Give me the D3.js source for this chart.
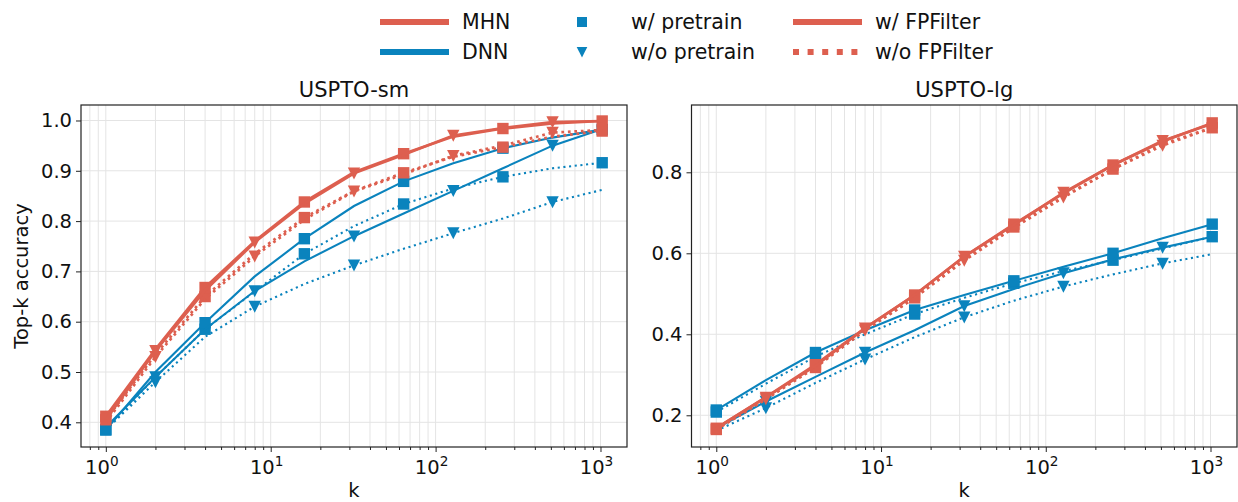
<!DOCTYPE html>
<html>
<head>
<meta charset="utf-8">
<script src="https://cdn.jsdelivr.net/npm/d3@7"></script>
<style>
  body { margin: 0; background: #fff; }
  svg { display: block; font-family: "DejaVu Sans", sans-serif; }
</style>
</head>
<body>
<script>
// Top-k accuracy vs k, two datasets. 11 points each: k = 1 .. 1024.
const kValues = [1, 2, 4, 8, 16, 32, 64, 128, 256, 512, 1024];

// USPTO-sm
const smMhnPreFp     = [0.412, 0.545, 0.668, 0.760, 0.838, 0.897, 0.934, 0.968, 0.984, 0.994, 0.999];
const smMhnNoPreFp   = [0.405, 0.542, 0.662, 0.758, 0.835, 0.895, 0.932, 0.970, 0.985, 0.997, 0.999];
const smMhnPreNoFp   = [0.405, 0.535, 0.650, 0.735, 0.807, 0.860, 0.896, 0.928, 0.947, 0.968, 0.979];
const smMhnNoPreNoFp = [0.400, 0.530, 0.645, 0.730, 0.803, 0.859, 0.893, 0.930, 0.950, 0.976, 0.981];
const smDnnPreFp     = [0.385, 0.500, 0.598, 0.690, 0.765, 0.830, 0.879, 0.915, 0.945, 0.966, 0.982];
const smDnnNoPreFp   = [0.390, 0.490, 0.585, 0.661, 0.720, 0.770, 0.815, 0.860, 0.905, 0.950, 0.983];
const smDnnPreNoFp   = [0.385, 0.490, 0.585, 0.660, 0.735, 0.790, 0.834, 0.865, 0.888, 0.905, 0.916];
const smDnnNoPreNoFp = [0.385, 0.480, 0.570, 0.630, 0.675, 0.712, 0.745, 0.776, 0.805, 0.838, 0.862];

// USPTO-lg
const lgMhnPreFp     = [0.168, 0.245, 0.325, 0.415, 0.497, 0.592, 0.672, 0.748, 0.818, 0.876, 0.922];
const lgMhnNoPreFp   = [0.168, 0.244, 0.322, 0.415, 0.497, 0.592, 0.670, 0.750, 0.818, 0.878, 0.920];
const lgMhnPreNoFp   = [0.165, 0.240, 0.318, 0.410, 0.490, 0.585, 0.665, 0.740, 0.808, 0.870, 0.910];
const lgMhnNoPreNoFp = [0.165, 0.240, 0.320, 0.410, 0.490, 0.582, 0.663, 0.738, 0.808, 0.866, 0.910];
const lgDnnPreFp     = [0.213, 0.287, 0.355, 0.410, 0.460, 0.497, 0.532, 0.567, 0.600, 0.637, 0.672];
const lgDnnNoPreFp   = [0.168, 0.234, 0.295, 0.355, 0.410, 0.470, 0.512, 0.551, 0.585, 0.614, 0.641];
const lgDnnPreNoFp   = [0.208, 0.278, 0.345, 0.400, 0.450, 0.490, 0.526, 0.556, 0.583, 0.612, 0.641];
const lgDnnNoPreNoFp = [0.162, 0.218, 0.280, 0.338, 0.393, 0.442, 0.483, 0.518, 0.548, 0.575, 0.598];

const xMajorTicks = [1, 10, 100, 1000];
const smYTicks = [0.4, 0.5, 0.6, 0.7, 0.8, 0.9, 1.0];
const lgYTicks = [0.2, 0.4, 0.6, 0.8];

const RED = '#dd5f4f';
const BLUE = '#0a83bd';

const W = 1238, H = 502;
const TOP = 105, BOTTOM = 447;
const FONT = 19.5;

const svg = d3.select('body').append('svg').attr('width', W).attr('height', H);

// model, pretrain, fpfilter -> style. DNN drawn first so MHN sits on top.
function seriesFor(mhnPreFp, mhnNoPreFp, mhnPreNoFp, mhnNoPreNoFp,
                   dnnPreFp, dnnNoPreFp, dnnPreNoFp, dnnNoPreNoFp) {
  return [
    { vals: dnnPreNoFp, color: BLUE, pre: true, fp: false },
    { vals: dnnNoPreNoFp, color: BLUE, pre: false, fp: false },
    { vals: dnnPreFp, color: BLUE, pre: true, fp: true },
    { vals: dnnNoPreFp, color: BLUE, pre: false, fp: true },
    { vals: mhnPreNoFp, color: RED, pre: true, fp: false },
    { vals: mhnNoPreNoFp, color: RED, pre: false, fp: false },
    { vals: mhnPreFp, color: RED, pre: true, fp: true },
    { vals: mhnNoPreFp, color: RED, pre: false, fp: true }
  ];
}

const panels = [
  {
    title: 'USPTO-sm', left: 81, right: 627, yDomain: [0.3509, 1.0308], yTicks: smYTicks,
    series: seriesFor(smMhnPreFp, smMhnNoPreFp, smMhnPreNoFp, smMhnNoPreNoFp,
                      smDnnPreFp, smDnnNoPreFp, smDnnPreNoFp, smDnnNoPreNoFp)
  },
  {
    title: 'USPTO-lg', left: 691.5, right: 1237, yDomain: [0.1217, 0.9662], yTicks: lgYTicks,
    series: seriesFor(lgMhnPreFp, lgMhnNoPreFp, lgMhnPreNoFp, lgMhnNoPreNoFp,
                      lgDnnPreFp, lgDnnNoPreFp, lgDnnPreNoFp, lgDnnNoPreNoFp)
  }
];

const squarePath = 'M-5.7,-5.7H5.7V5.7H-5.7Z';
const trianglePath = 'M-6.2,-5.8L6.2,-5.8L0,6.2Z';

function drawPanel(p) {
  const x = d3.scaleLog()
    .domain([Math.pow(10, -0.1505), Math.pow(10, 3.1608)])
    .range([p.left, p.right]);
  const y = d3.scaleLinear().domain(p.yDomain).range([BOTTOM, TOP]);
  const g = svg.append('g');

  // minor log ticks inside the domain
  const minor = [];
  for (let e = -1; e < 4; e++) {
    for (let m = 2; m < 10; m++) {
      const v = m * Math.pow(10, e);
      if (v >= x.domain()[0] && v <= x.domain()[1]) minor.push(v);
    }
  }

  // grid
  const grid = g.append('g').attr('stroke', '#e4e4e4').attr('stroke-width', 1);
  grid.selectAll('line.vx')
    .data(minor.concat(xMajorTicks))
    .join('line')
    .attr('x1', (d) => x(d)).attr('x2', (d) => x(d))
    .attr('y1', TOP).attr('y2', BOTTOM);
  grid.selectAll('line.hy')
    .data(p.yTicks)
    .join('line')
    .attr('x1', p.left).attr('x2', p.right)
    .attr('y1', (d) => y(d)).attr('y2', (d) => y(d));

  // lines
  const line = d3.line()
    .x((d, i) => x(kValues[i]))
    .y((d) => y(d));
  p.series.forEach((s) => {
    const red = s.color === RED;
    g.append('path')
      .attr('d', line(s.vals))
      .attr('fill', 'none')
      .attr('stroke', s.color)
      .attr('stroke-width', red ? 2.7 : 2.1)
      .attr('stroke-dasharray', s.fp ? null : (red ? '2.7,3.8' : '2.1,3.6'));
    // markers on every other point, offset for w/o pretrain
    const pts = s.vals
      .map((v, i) => ({ k: kValues[i], v, i }))
      .filter((d) => (s.pre ? d.i % 2 === 0 : d.i % 2 === 1));
    g.selectAll(null)
      .data(pts)
      .join('path')
      .attr('d', s.pre ? squarePath : trianglePath)
      .attr('transform', (d) => `translate(${x(d.k)},${y(d.v)})`)
      .attr('fill', s.color);
  });

  // frame
  g.append('rect')
    .attr('x', p.left).attr('y', TOP)
    .attr('width', p.right - p.left).attr('height', BOTTOM - TOP)
    .attr('fill', 'none').attr('stroke', '#222').attr('stroke-width', 1.2);

  // x axis
  const xAxis = g.append('g').attr('transform', `translate(0,${BOTTOM})`)
    .call(d3.axisBottom(x).tickValues(xMajorTicks).tickSize(5).tickFormat(() => ''));
  g.append('g').attr('transform', `translate(0,${BOTTOM})`)
    .call(d3.axisBottom(x).tickValues(minor).tickSize(3).tickFormat(() => ''))
    .call((a) => a.select('.domain').remove());
  xAxis.select('.domain').remove();
  g.selectAll('.tick line').attr('stroke', '#222').attr('stroke-width', 1);

  g.selectAll('text.xlab')
    .data(xMajorTicks)
    .join('text')
    .attr('x', (d) => x(d) - 4)
    .attr('y', 474)
    .attr('text-anchor', 'middle')
    .attr('font-size', FONT)
    .attr('fill', '#111')
    .each(function (d) {
      const t = d3.select(this);
      t.append('tspan').text('10');
      t.append('tspan')
        .attr('dy', -8)
        .attr('font-size', FONT * 0.7)
        .text(Math.round(Math.log10(d)));
    });

  // y axis
  const yAxis = g.append('g').attr('transform', `translate(${p.left},0)`)
    .call(d3.axisLeft(y).tickValues(p.yTicks).tickSize(5).tickPadding(4).tickFormat(d3.format('.1f')));
  yAxis.select('.domain').remove();
  yAxis.selectAll('line').attr('stroke', '#222');
  yAxis.selectAll('text')
    .attr('font-size', FONT)
    .attr('font-family', '"DejaVu Sans", sans-serif')
    .attr('fill', '#111');

  // title and x label
  const cx = (p.left + p.right) / 2;
  g.append('text')
    .attr('x', cx).attr('y', 97)
    .attr('text-anchor', 'middle')
    .attr('font-size', 21)
    .attr('fill', '#111')
    .text(p.title);
  g.append('text')
    .attr('x', cx).attr('y', 497)
    .attr('text-anchor', 'middle')
    .attr('font-size', FONT)
    .attr('fill', '#111')
    .text('k');
}

panels.forEach(drawPanel);

// y label
svg.append('text')
  .attr('transform', 'translate(28,276) rotate(-90)')
  .attr('text-anchor', 'middle')
  .attr('font-size', FONT)
  .attr('fill', '#111')
  .text('Top-k accuracy');

// legend
const LEG_FONT = 20.5;
const legend = svg.append('g');
const rows = [22, 52];
const legendModels = [{ label: 'MHN', color: RED }, { label: 'DNN', color: BLUE }];
const legendPretrain = [{ label: 'w/ pretrain', path: 'M-5,-5H5V5H-5Z' },
                        { label: 'w/o pretrain', path: 'M-5.3,-5L5.3,-5L0,5.5Z' }];
const legendFilter = [{ label: 'w/ FPFilter', dash: null }, { label: 'w/o FPFilter', dash: '6,8.6' }];

legendModels.forEach((m, i) => {
  legend.append('line')
    .attr('x1', 380).attr('x2', 449).attr('y1', rows[i]).attr('y2', rows[i])
    .attr('stroke', m.color).attr('stroke-width', 6);
  legend.append('text').attr('x', 462).attr('y', rows[i]).attr('dy', '0.36em')
    .attr('font-size', LEG_FONT).attr('fill', '#111').text(m.label);
});
legendPretrain.forEach((m, i) => {
  legend.append('path').attr('d', m.path)
    .attr('transform', `translate(582,${rows[i]})`).attr('fill', BLUE);
  legend.append('text').attr('x', 631).attr('y', rows[i]).attr('dy', '0.36em')
    .attr('font-size', LEG_FONT).attr('fill', '#111').text(m.label);
});
legendFilter.forEach((m, i) => {
  legend.append('line')
    .attr('x1', 793).attr('x2', 862).attr('y1', rows[i]).attr('y2', rows[i])
    .attr('stroke', RED).attr('stroke-width', 6)
    .attr('stroke-dasharray', m.dash);
  legend.append('text').attr('x', 875).attr('y', rows[i]).attr('dy', '0.36em')
    .attr('font-size', LEG_FONT).attr('fill', '#111').text(m.label);
});
</script>
</body>
</html>
